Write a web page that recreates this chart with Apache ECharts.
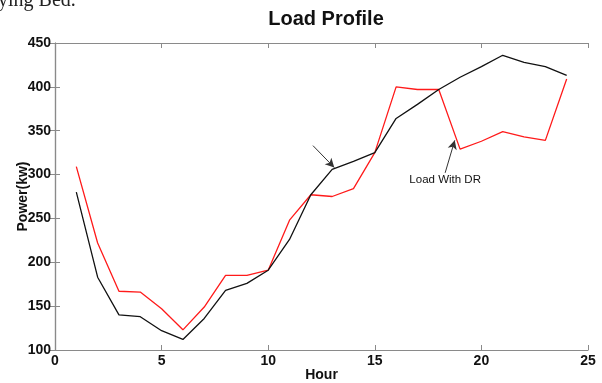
<!DOCTYPE html>
<html>
<head>
<meta charset="utf-8">
<script src="https://cdn.jsdelivr.net/npm/echarts@6/dist/echarts.min.js"></script>
<style>html,body{margin:0;padding:0;background:#fff}#c{width:602px;height:383px}</style>
</head>
<body>
<div id="c"></div>
<script>
const hours = [1,2,3,4,5,6,7,8,9,10,11,12,13,14,15,16,17,18,19,20,21,22,23,24];
const loadBase = [280,183,140,138,122,112,136,168,176,191,226,277,306,315,325,364,380,397,411,423,436,428,423,413];
const loadWithDR = [309,222,167,166,147,123,149,185,185,191,248,277,275,284,325,400,397,397,329,338,349,343,339,409];
const xTicks = {min:0, max:25, interval:5};
const yTicks = {min:100, max:450, interval:50};
const arrow1 = [[12.1,333],[13.1,308]];
const arrow2 = [[18.3,302],[18.75,339]];
const drLabel = {coord:[18.3,294], text:'Load With DR'};

const font = '"Liberation Sans Narrow","Arial Narrow","Liberation Sans",Arial,sans-serif';
const chart = echarts.init(document.getElementById('c'), null, {renderer:'canvas'});
const axisLine = {show:true, lineStyle:{color:'#8a8a8a', width:1.2}};
const axisTick = {show:true, inside:true, length:5, lineStyle:{color:'#8a8a8a', width:1}};
const labelStyle = {color:'#111', fontFamily:font, fontWeight:'bold', fontSize:14};

chart.setOption({
  animation:false,
  backgroundColor:'#fff',
  title:{text:'Load Profile', left:321, top:4, textAlign:'center',
    textStyle:{fontFamily:font, fontWeight:'bold', fontSize:20, color:'#111'}},
  graphic:[{type:'text', left:-2, top:-9, style:{text:'ying Bed.', font:'20px "Liberation Serif",serif', fill:'#222'}}],
  grid:{left:55, right:14, top:43, bottom:33, containLabel:false, outerBoundsMode:'none'},
  xAxis:[
    {type:'value', min:xTicks.min, max:xTicks.max, interval:xTicks.interval, position:'bottom',
     name:'Hour', nameLocation:'middle', nameGap:18, nameMoveOverlap:false,
     nameTextStyle:{fontFamily:font, fontWeight:'bold', fontSize:14, color:'#111'},
     axisLine, axisTick, splitLine:{show:false},
     axisLabel:Object.assign({margin:4}, labelStyle)},
    {type:'value', min:xTicks.min, max:xTicks.max, interval:xTicks.interval, position:'top',
     axisLine, axisTick, splitLine:{show:false}, axisLabel:{show:false}}
  ],
  yAxis:[
    {type:'value', min:yTicks.min, max:yTicks.max, interval:yTicks.interval, position:'left',
     name:'Power(kw)', nameLocation:'middle', nameGap:25, nameRotate:90, nameMoveOverlap:false,
     nameTextStyle:{fontFamily:font, fontWeight:'bold', fontSize:14, color:'#111'},
     axisLine, axisTick, splitLine:{show:false},
     axisLabel:Object.assign({margin:4}, labelStyle)},
    {type:'value', min:yTicks.min, max:yTicks.max, interval:yTicks.interval, position:'right',
     axisLine, axisTick, splitLine:{show:false}, axisLabel:{show:false}}
  ],
  series:[
    {type:'line', name:'Load', data:hours.map((h,i)=>[h,loadBase[i]]), symbol:'none',
     lineStyle:{color:'#111', width:1.3}, z:3,
     markLine:{silent:true, symbol:['none','arrow'], symbolSize:[7,9],
       lineStyle:{color:'#333', width:1, type:'solid'}, label:{show:false},
       data:[
         [{coord:arrow1[0]},{coord:arrow1[1]}],
         [{coord:arrow2[0]},{coord:arrow2[1]}]
       ]},
     markPoint:{silent:true, symbol:'circle', symbolSize:0,
       data:[{coord:drLabel.coord, value:drLabel.text,
         label:{show:true, position:'inside', formatter:drLabel.text,
           fontFamily:font, fontSize:11.5, color:'#111'}}]}},
    {type:'line', name:'Load With DR', data:hours.map((h,i)=>[h,loadWithDR[i]]), symbol:'none',
     lineStyle:{color:'#ff1a1a', width:1.3}, z:2}
  ]
});
</script>
</body>
</html>
